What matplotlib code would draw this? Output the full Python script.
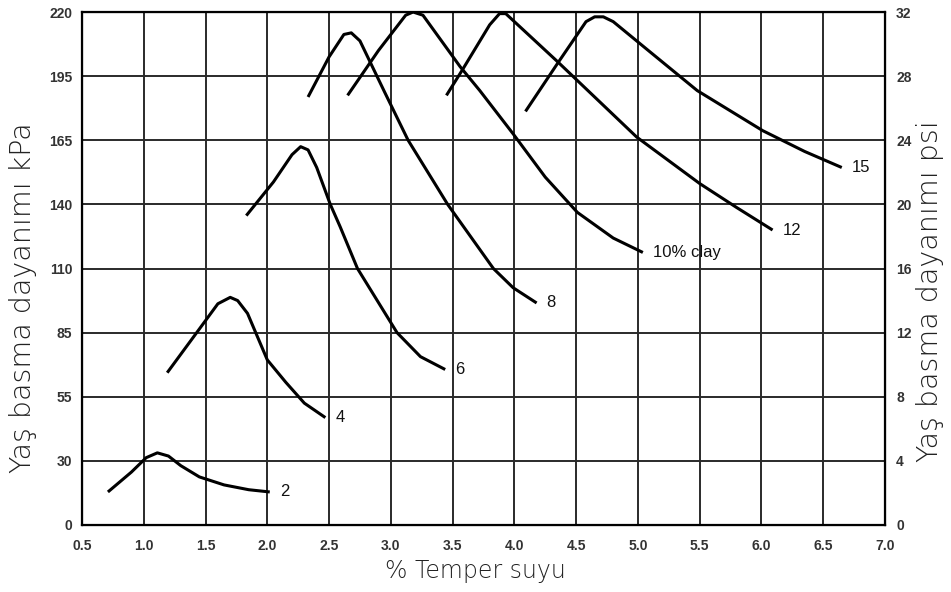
import matplotlib.pyplot as plt

# % temper water vs green compressive strength (psi), one curve per clay content
x2 = [0.71, 0.90, 1.02, 1.11, 1.20, 1.30, 1.45, 1.65, 1.85, 2.02]
y2 = [2.06, 3.3, 4.2, 4.5, 4.3, 3.7, 3.0, 2.5, 2.2, 2.06]

x4 = [1.19, 1.40, 1.60, 1.70, 1.76, 1.84, 2.00, 2.15, 2.30, 2.47]
y4 = [9.5, 11.7, 13.8, 14.2, 14.0, 13.2, 10.3, 8.9, 7.6, 6.7]

x6 = [1.83, 2.05, 2.20, 2.27, 2.33, 2.40, 2.51, 2.59, 2.73, 2.89, 3.05, 3.24, 3.44]
y6 = [19.3, 21.4, 23.1, 23.6, 23.4, 22.3, 20.0, 18.6, 16.0, 14.0, 12.0, 10.5, 9.7]

x8 = [2.33, 2.50, 2.62, 2.68, 2.75, 2.95, 3.14, 3.46, 3.83, 3.99, 4.18]
y8 = [26.7, 29.2, 30.6, 30.7, 30.2, 27.0, 24.0, 20.0, 16.0, 14.8, 13.85]

x10 = [2.65, 2.90, 3.12, 3.18, 3.26, 3.56, 3.72, 3.99, 4.25, 4.51, 4.80, 5.04]
y10 = [26.8, 29.6, 31.8, 32.0, 31.8, 28.6, 27.1, 24.4, 21.7, 19.5, 17.9, 17.0]

x12 = [3.45, 3.58, 3.80, 3.88, 3.93, 4.00, 4.35, 4.99, 5.50, 5.80, 6.09]
y12 = [26.8, 28.4, 31.2, 31.9, 31.9, 31.4, 28.9, 24.2, 21.3, 19.8, 18.4]

x15 = [4.09, 4.35, 4.58, 4.65, 4.72, 4.80, 5.10, 5.48, 6.01, 6.35, 6.65]
y15 = [25.8, 28.8, 31.4, 31.7, 31.7, 31.4, 29.5, 27.1, 24.6, 23.3, 22.3]

curves = [(x2, y2, "2"), (x4, y4, "4"), (x6, y6, "6"), (x8, y8, "8"),
          (x10, y10, "10% clay"), (x12, y12, "12"), (x15, y15, "15")]

xticks = [0.5, 1.0, 1.5, 2.0, 2.5, 3.0, 3.5, 4.0, 4.5, 5.0, 5.5, 6.0, 6.5, 7.0]
psi_ticks = [0, 4, 8, 12, 16, 20, 24, 28, 32]
kpa_labels = ["0", "30", "55", "85", "110", "140", "165", "195", "220"]

tick_font = dict(family="Liberation Sans", weight="bold", size=10, color="#333333")

fig = plt.figure(figsize=(9.51, 5.92), dpi=100)
ax = fig.add_axes([0.0862, 0.1132, 0.8444, 0.8665])

for xs, ys, name in curves:
    ax.plot(xs, ys, color="black", lw=2.2, solid_capstyle="butt")
    ax.text(xs[-1] + 0.08, ys[-1], name, fontsize=12, va="center", ha="left",
            family="Liberation Sans", color="#111111")

ax.set_xlim(0.5, 7.0)
ax.set_ylim(0, 32)
ax.set_xticks(xticks)
ax.set_xticklabels([f"{v:.1f}" for v in xticks], **tick_font)
ax.set_yticks(psi_ticks)
ax.set_yticklabels(kpa_labels, **tick_font)
ax.tick_params(axis="x", length=0, pad=10)
ax.tick_params(axis="y", length=0, pad=7)
ax.grid(True, color="#2a2a2a", lw=1.4)
for s in ax.spines.values():
    s.set_linewidth(1.6)

ax2 = ax.twinx()
ax2.set_ylim(0, 32)
ax2.set_yticks(psi_ticks)
ax2.set_yticklabels([str(v) for v in psi_ticks], **tick_font)
ax2.tick_params(length=0, pad=8)

lab = dict(family="DejaVu Sans", weight="light", color="#222222")
ax.set_xlabel("% Temper suyu", fontsize=17, va="center", **lab)
ax.xaxis.set_label_coords(0.49, -0.09)
ax.set_ylabel("Yaş basma dayanımı kPa", fontsize=20.5, va="center", **lab)
ax.yaxis.set_label_coords(-0.074, 0.4425)
ax2.set_ylabel("Yaş basma dayanımı psi", fontsize=20.5, va="center", **lab)
ax2.yaxis.set_label_coords(1.056, 0.456)

fig.savefig("out.png", dpi=100)
